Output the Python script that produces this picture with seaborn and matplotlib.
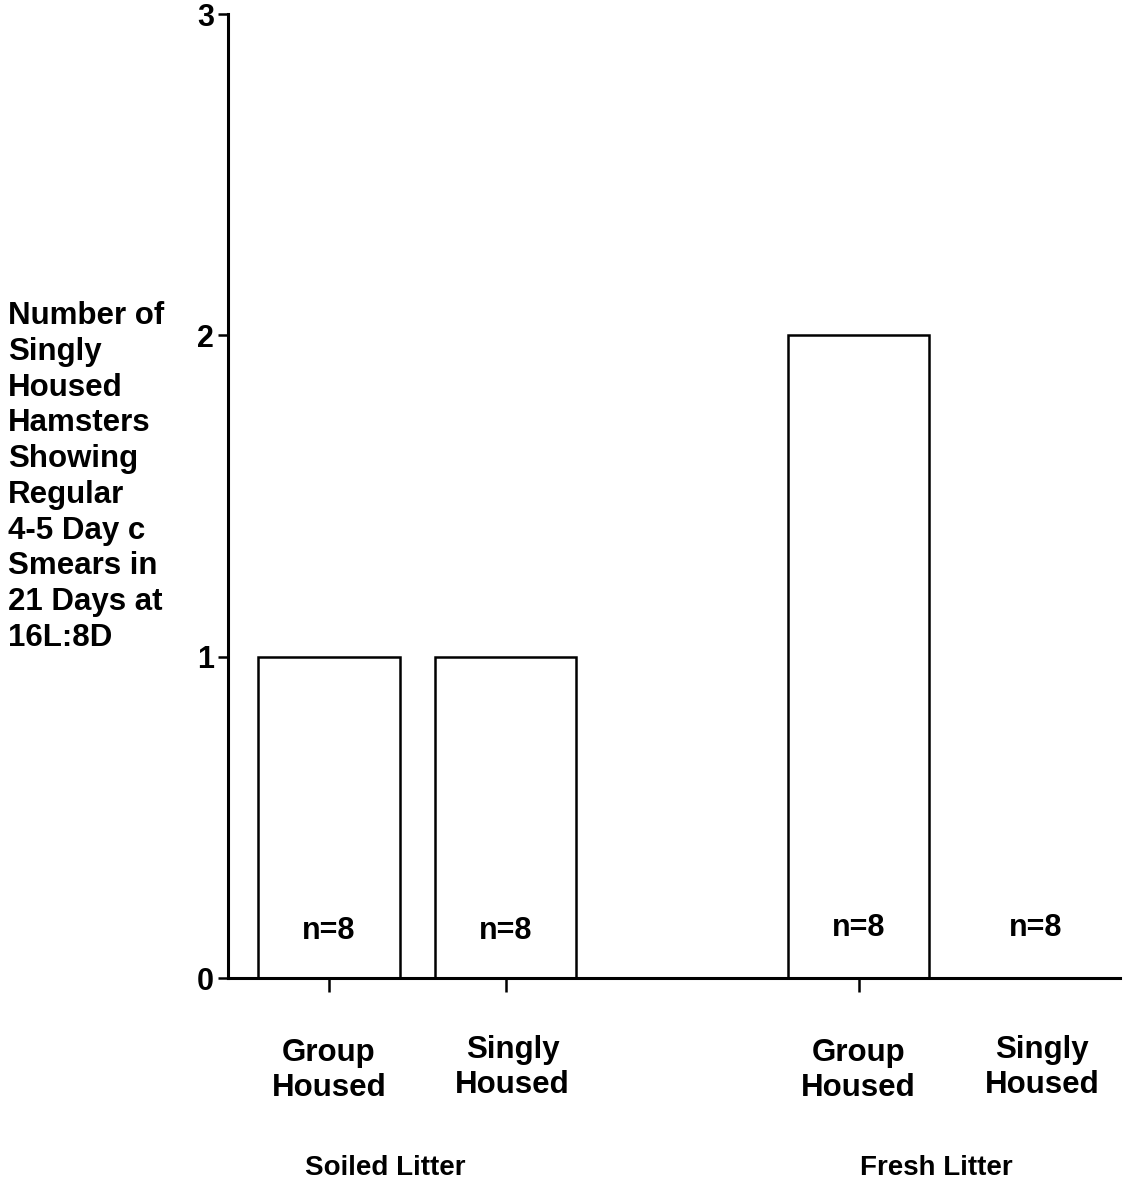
import matplotlib
matplotlib.use("Agg")
import matplotlib.pyplot as plt
import matplotlib.transforms as mtransforms
import seaborn as sns
import pandas as pd

# ---- data ----
housing = ["Group\nHoused", "Singly\nHoused", "Group\nHoused", "Singly\nHoused"]
litter = ["Soiled Litter", "Soiled Litter", "Fresh Litter", "Fresh Litter"]
counts = [1, 1, 2, 0]
n_labels = ["n=8", "n=8", "n=8", "n=8"]
y_ticks = [0, 1, 2, 3]
y_label = "Number of\nSingly\nHoused\nHamsters\nShowing\nRegular\n4-5 Day c\nSmears in\n21 Days at\n16L:8D"

# bar positions: one gap slot between litter groups
litter_order = list(dict.fromkeys(litter))
pos = [i + litter_order.index(l) for i, l in enumerate(litter)]
df = pd.DataFrame({"pos": pos, "count": counts, "housing": housing, "litter": litter})

sns.set_theme(style="white")
plt.rcParams["font.family"] = ["Liberation Sans", "DejaVu Sans"]
plt.rcParams["font.weight"] = "bold"
plt.rcParams["text.color"] = "black"
plt.rcParams["xtick.color"] = "black"
plt.rcParams["ytick.color"] = "black"

W, H = 1132, 1187
fig = plt.figure(figsize=(W / 100, H / 100), dpi=100)
ax = fig.add_axes([228 / W, 1 - 978 / H, (1120 - 228) / W, (978 - 14) / H])

sns.barplot(data=df, x="pos", y="count", native_scale=True, width=0.8,
            color="white", edgecolor="black", linewidth=1.8, ax=ax)

ax.set_xlim(-0.572, 4.48)
ax.set_ylim(0, 3)
ax.set_yticks(y_ticks)
ax.set_yticklabels([str(t) for t in y_ticks], fontsize=22, fontweight="bold")
ax.set_xticks(pos)
ax.set_xticklabels(housing, fontsize=22.5, fontweight="bold", linespacing=1.25)
ax.tick_params(axis="y", direction="out", length=7, width=1.8, pad=3, left=True)
ax.tick_params(axis="x", direction="out", length=10, width=1.8, pad=33, bottom=True)
ax.xaxis.get_major_ticks()[3].tick1line.set_visible(False)
ax.set_xlabel("")
ax.set_ylabel("")

# "Singly Housed" labels sit slightly right/up of their tick in the original
for lbl, h in zip(ax.get_xticklabels(), housing):
    if h.startswith("Singly"):
        lbl.set_transform(lbl.get_transform() +
                          mtransforms.ScaledTranslation(7 / 100, 3 / 100, fig.dpi_scale_trans))

for side in ["top", "right"]:
    ax.spines[side].set_visible(False)
for side in ["left", "bottom"]:
    ax.spines[side].set_color("black")
    ax.spines[side].set_linewidth(2.2)

for p, t, l in zip(pos, n_labels, litter):
    ax.text(p, 0.145 if l == "Soiled Litter" else 0.155, t, ha="center", va="center",
            fontsize=22, fontweight="bold")

# litter group labels
for l in litter_order:
    xs = [p for p, ll in zip(pos, litter) if ll == l]
    xc = sum(xs) / len(xs) - (0.18 if l == "Soiled Litter" else 0.06)
    ax.text(xc, -0.59, l, ha="center", va="center", fontsize=20, fontweight="bold")

fig.text(8 / W, 1 - 477 / H, y_label, ha="left", va="center", fontsize=22.5,
         fontweight="bold", linespacing=1.25)

fig.savefig("out.png", dpi=100, facecolor="white")
